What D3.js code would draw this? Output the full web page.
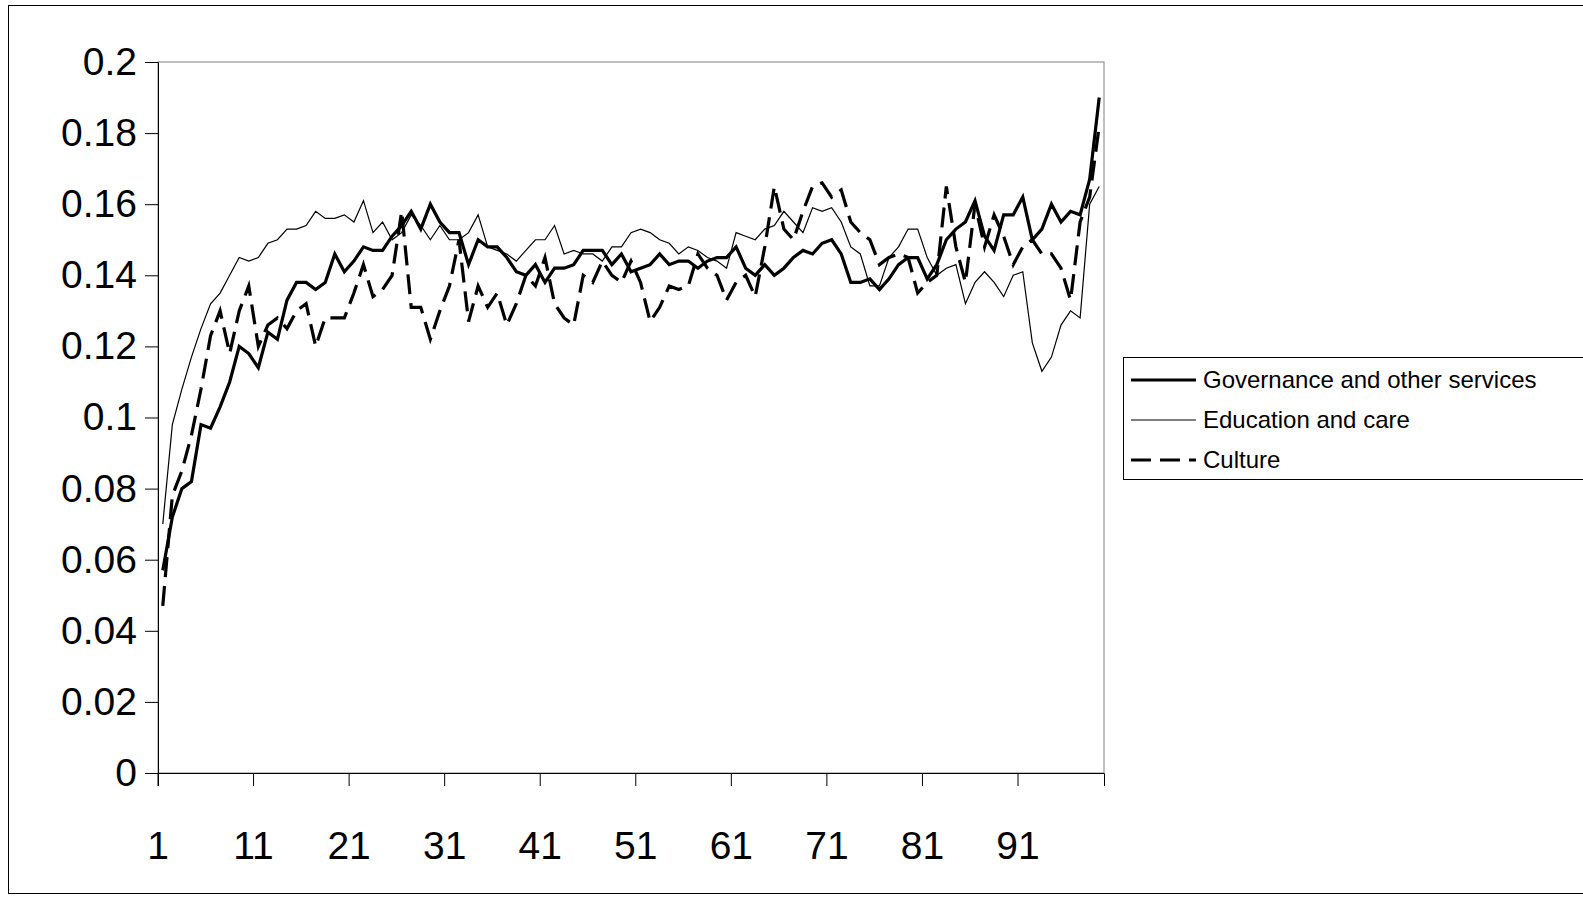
<!DOCTYPE html><html><head><meta charset="utf-8"><script src="https://cdn.jsdelivr.net/npm/d3@7"></script>
<style>body{margin:0;background:#fff}svg{font-family:"Liberation Sans",Arial,sans-serif}</style></head><body>
<svg id="c" width="1583" height="904"></svg>
<script>
const governance=[0.057,0.072,0.080,0.082,0.098,0.097,0.103,0.110,0.120,0.118,0.114,0.124,0.122,0.133,0.138,0.138,0.136,0.138,0.146,0.141,0.144,0.148,0.147,0.147,0.151,0.154,0.158,0.153,0.160,0.155,0.152,0.152,0.143,0.150,0.148,0.148,0.145,0.141,0.140,0.143,0.138,0.142,0.142,0.143,0.147,0.147,0.147,0.143,0.146,0.141,0.142,0.143,0.146,0.143,0.144,0.144,0.142,0.144,0.145,0.145,0.148,0.142,0.140,0.143,0.140,0.142,0.145,0.147,0.146,0.149,0.150,0.146,0.138,0.138,0.139,0.136,0.139,0.143,0.145,0.145,0.139,0.143,0.150,0.153,0.155,0.161,0.151,0.147,0.157,0.157,0.162,0.150,0.153,0.160,0.155,0.158,0.157,0.167,0.190];
const education=[0.070,0.098,0.108,0.117,0.125,0.132,0.135,0.140,0.145,0.144,0.145,0.149,0.150,0.153,0.153,0.154,0.158,0.156,0.156,0.157,0.155,0.161,0.152,0.155,0.150,0.152,0.157,0.154,0.150,0.154,0.150,0.150,0.152,0.157,0.148,0.147,0.146,0.144,0.147,0.150,0.150,0.154,0.146,0.147,0.146,0.146,0.144,0.148,0.148,0.152,0.153,0.152,0.150,0.149,0.146,0.148,0.147,0.145,0.144,0.142,0.152,0.151,0.150,0.153,0.154,0.158,0.155,0.152,0.159,0.158,0.159,0.155,0.148,0.146,0.137,0.137,0.145,0.148,0.153,0.153,0.145,0.140,0.142,0.143,0.132,0.138,0.141,0.138,0.134,0.140,0.141,0.121,0.113,0.117,0.126,0.130,0.128,0.160,0.165];
const culture=[0.047,0.078,0.085,0.095,0.108,0.123,0.130,0.118,0.130,0.137,0.120,0.126,0.128,0.125,0.130,0.132,0.120,0.128,0.128,0.128,0.135,0.143,0.134,0.136,0.140,0.158,0.131,0.131,0.122,0.130,0.137,0.150,0.127,0.137,0.131,0.135,0.126,0.132,0.140,0.137,0.145,0.132,0.128,0.126,0.140,0.138,0.144,0.140,0.138,0.144,0.138,0.127,0.131,0.137,0.136,0.137,0.146,0.142,0.140,0.133,0.138,0.140,0.134,0.148,0.165,0.153,0.150,0.158,0.165,0.166,0.162,0.164,0.155,0.152,0.150,0.143,0.145,0.146,0.145,0.135,0.138,0.140,0.165,0.148,0.138,0.160,0.148,0.157,0.151,0.143,0.148,0.150,0.146,0.146,0.142,0.133,0.155,0.162,0.182];
const yTicks=[0,0.02,0.04,0.06,0.08,0.1,0.12,0.14,0.16,0.18,0.2];
const xTickLabels=[1,11,21,31,41,51,61,71,81,91];
const seriesNames=["Governance and other services","Education and care","Culture"];

const svg=d3.select("#c");
svg.append("rect").attr("x",8.5).attr("y",5.5).attr("width",1590).attr("height",888).attr("fill","none").attr("stroke","#000");
const L=158,R=1104,T=62,B=773;
const cats=d3.range(1,governance.length+1);
const x=d3.scaleBand().domain(cats).range([L,R]);
const y=d3.scaleLinear().domain([0,0.2]).range([B,T]);
svg.append("rect").attr("x",L).attr("y",T).attr("width",R-L).attr("height",B-T).attr("fill","none").attr("stroke","#808080");
const ya=svg.append("g").attr("transform",`translate(${L},0)`).call(d3.axisLeft(y).tickValues(yTicks).tickSize(13).tickPadding(8).tickFormat(d=>String(d)));
ya.selectAll("text").attr("font-size",39).attr("fill","#000").attr("font-family","Liberation Sans, Arial");
ya.selectAll("line,path").attr("stroke","#000");
const xa=svg.append("g").attr("transform",`translate(0,${B})`).call(d3.axisBottom(x).tickValues(xTickLabels).tickSize(13).tickPadding(45));
xa.selectAll(".tick").attr("transform",d=>`translate(${x(d)},0)`);
xa.selectAll("text").attr("font-size",39).attr("fill","#000").attr("font-family","Liberation Sans, Arial");
xa.selectAll("line,path").attr("stroke","#000");
const cx=i=>x(i+1)+x.bandwidth()/2;
const line=d3.line().x((d,i)=>cx(i)).y(d=>y(d));
const styles=[{w:3.2,dash:null},{w:1.2,dash:null},{w:3.2,dash:"20,9"}];
[education,culture,governance].forEach((s,k)=>{
  const st=[styles[1],styles[2],styles[0]][k];
  svg.append("path").datum(s).attr("d",line).attr("fill","none").attr("stroke","#000").attr("stroke-width",st.w).attr("stroke-dasharray",st.dash).attr("stroke-linejoin","miter");
});
const lg=svg.append("g");
lg.append("rect").attr("x",1123.5).attr("y",357.5).attr("width",470).attr("height",122).attr("fill","#fff").attr("stroke","#000");
seriesNames.forEach((n,i)=>{
  const yy=380+i*40;
  lg.append("line").attr("x1",1131).attr("x2",1196).attr("y1",yy).attr("y2",yy).attr("stroke","#000").attr("stroke-width",styles[i].w).attr("stroke-dasharray",styles[i].dash);
  lg.append("text").attr("x",1203).attr("y",yy+8).attr("font-size",24).text(n);
});
</script></body></html>
